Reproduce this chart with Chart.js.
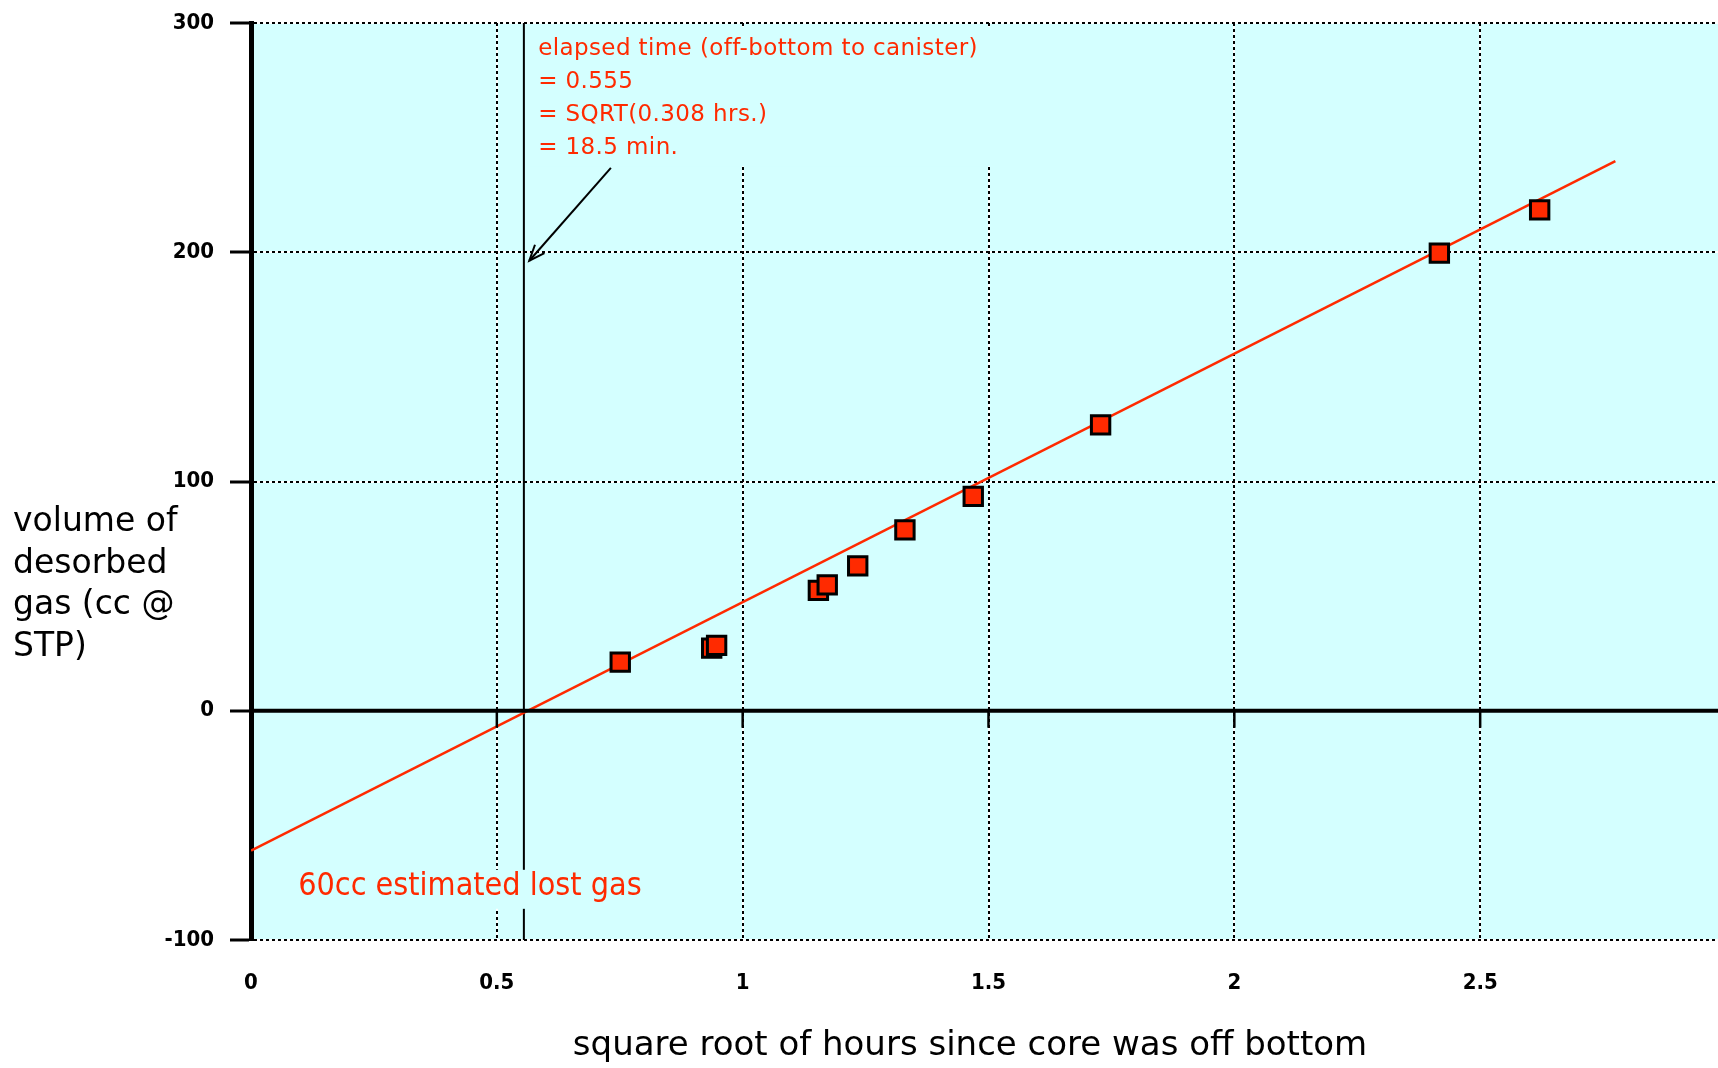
<!DOCTYPE html>
<html>
<head>
<meta charset="utf-8">
<script src="https://cdn.jsdelivr.net/npm/chart.js@4/dist/chart.umd.min.js"></script>
<style>
  html, body { margin: 0; padding: 0; background: #ffffff; overflow: hidden; width: 1718px; height: 1068px; }
  canvas { display: block; }
</style>
</head>
<body>
<canvas id="c" width="1760" height="1068" style="width:1760px;height:1068px"></canvas>
<script>
// ---- data ----
const sampleX = [0.751, 0.937, 0.947, 1.154, 1.172, 1.234, 1.330, 1.469, 1.728, 2.417, 2.621];
const sampleY = [21.2, 27.3, 28.5, 52.5, 54.9, 63.2, 78.9, 93.5, 124.7, 199.6, 218.5];
const fitX = [0, 2.775];
const fitY = [-61, 239.7];
const elapsedX = [0.555, 0.555];
const elapsedY = [-100, 300];
const arrowX = [0.732, 0.566];
const arrowY = [236.8, 196.3];
const xTicks = [0, 0.5, 1, 1.5, 2, 2.5, 3];
const yTicks = [-100, 0, 100, 200, 300];
const noteLines = ["elapsed time (off-bottom to canister)", "= 0.555", "= SQRT(0.308 hrs.)", "= 18.5 min."];
const noteAnchor = [0.584, 288.6];
const lostGasText = "60cc estimated lost gas";
const lostGasAnchor = [0.096, -76.8];
const yTitleLines = ["volume of", "desorbed", "gas (cc @", "STP)"];
const xTitle = "square root of hours since core was off bottom";

const RED = 'rgb(255,42,0)';
const BG = '#d4ffff';
const FONT = '"DejaVu Sans", "Liberation Sans", sans-serif';
const CFONT = '"DejaVu Sans Condensed", "DejaVu Sans", sans-serif';

const toXY = (xs, ys) => xs.map((x, i) => ({x, y: ys[i]}));

const decor = {
  id: 'decor',
  beforeDraw(chart) {
    const {ctx, chartArea: a, scales: {x, y}} = chart;
    ctx.save();
    ctx.fillStyle = BG;
    ctx.fillRect(a.left, a.top, a.right - a.left, a.bottom - a.top);
    // white under-lines for checkered grid look
    ctx.strokeStyle = '#ffffff';
    ctx.lineWidth = 2;
    xTicks.forEach(v => {
      if (v === 0) return;
      const px = Math.round(x.getPixelForValue(v));
      ctx.beginPath(); ctx.moveTo(px, a.top); ctx.lineTo(px, a.bottom); ctx.stroke();
    });
    yTicks.forEach(v => {
      if (v === 0) return;
      const py = Math.round(y.getPixelForValue(v));
      ctx.beginPath(); ctx.moveTo(a.left, py); ctx.lineTo(a.right, py); ctx.stroke();
    });
    ctx.restore();
  },
  afterDatasetsDraw(chart) {
    const {ctx, chartArea: a, scales: {x, y}} = chart;
    ctx.save();
    // zero line + ticks
    const y0 = y.getPixelForValue(0);
    ctx.strokeStyle = '#000';
    ctx.lineWidth = 4;
    ctx.beginPath(); ctx.moveTo(a.left, y0); ctx.lineTo(a.right, y0); ctx.stroke();
    ctx.lineWidth = 2.5;
    xTicks.forEach(v => {
      if (v === 0) return;
      const px = x.getPixelForValue(v);
      ctx.beginPath(); ctx.moveTo(px, y0); ctx.lineTo(px, y0 + 17); ctx.stroke();
    });
    // arrow head
    const x1 = x.getPixelForValue(arrowX[0]), y1 = y.getPixelForValue(arrowY[0]);
    const x2 = x.getPixelForValue(arrowX[1]), y2 = y.getPixelForValue(arrowY[1]);
    const ang = Math.atan2(y2 - y1, x2 - x1);
    const L = 17, sp = 0.38;
    ctx.lineWidth = 2;
    ctx.beginPath();
    ctx.moveTo(x2 - L * Math.cos(ang - sp), y2 - L * Math.sin(ang - sp));
    ctx.lineTo(x2, y2);
    ctx.lineTo(x2 - L * Math.cos(ang + sp), y2 - L * Math.sin(ang + sp));
    ctx.stroke();

    // annotation block
    ctx.font = '23px ' + FONT;
    try { ctx.letterSpacing = '0.4px'; } catch (e) {}
    ctx.textBaseline = 'middle';
    ctx.textAlign = 'left';
    const nx = x.getPixelForValue(noteAnchor[0]);
    const ny = y.getPixelForValue(noteAnchor[1]);
    const lh = 33;
    let w = 0;
    noteLines.forEach(t => { w = Math.max(w, ctx.measureText(t).width); });
    ctx.fillStyle = BG;
    ctx.fillRect(nx - 8, ny - 22, w + 22, lh * (noteLines.length - 1) + 40);
    ctx.fillStyle = RED;
    noteLines.forEach((t, i) => ctx.fillText(t, nx, ny + i * lh));
    try { ctx.letterSpacing = '0px'; } catch (e) {}

    // lost gas text
    ctx.font = '32px ' + CFONT;
    const lx = x.getPixelForValue(lostGasAnchor[0]);
    const ly = y.getPixelForValue(lostGasAnchor[1]);
    const lw = ctx.measureText(lostGasText).width;
    ctx.fillStyle = BG;
    ctx.fillRect(lx - 4, ly - 17, lw + 8, 39);
    ctx.fillStyle = RED;
    ctx.fillText(lostGasText, lx, ly);

    // y title (horizontal, multi-line)
    ctx.fillStyle = '#000';
    ctx.font = '33px ' + FONT;
    const ty = y.getPixelForValue(100);
    yTitleLines.forEach((t, i) => ctx.fillText(t, 13, ty + 41 + i * 41.7));

    // x title
    ctx.font = '34px ' + FONT;
    ctx.textAlign = 'center';
    ctx.fillText(xTitle, 970, a.bottom + 106);
    ctx.restore();
  }
};

new Chart(document.getElementById('c'), {
  type: 'scatter',
  data: {
    datasets: [
      {
        label: 'elapsed',
        data: toXY(elapsedX, elapsedY),
        showLine: true,
        borderColor: '#000',
        borderWidth: 2,
        pointRadius: 0,
        order: 4
      },
      {
        label: 'arrow',
        data: toXY(arrowX, arrowY),
        showLine: true,
        borderColor: '#000',
        borderWidth: 2,
        pointRadius: 0,
        order: 3
      },
      {
        label: 'fit',
        data: toXY(fitX, fitY),
        showLine: true,
        borderColor: RED,
        borderWidth: 2.5,
        pointRadius: 0,
        order: 2
      },
      {
        label: 'samples',
        data: toXY(sampleX, sampleY),
        pointStyle: 'rect',
        pointRadius: 13,
        pointHoverRadius: 13,
        backgroundColor: RED,
        borderColor: '#000',
        borderWidth: 3,
        order: 1
      }
    ]
  },
  options: {
    responsive: false,
    animation: false,
    events: [],
    layout: { padding: { left: 0, top: 23, right: 34, bottom: 0 } },
    plugins: { legend: { display: false }, tooltip: { enabled: false } },
    scales: {
      x: {
        type: 'linear',
        min: 0, max: 3,
        afterBuildTicks(s) { s.ticks = xTicks.map(v => ({value: v})); },
        afterFit(s) { s.height = 128; s.paddingLeft = 0; s.paddingRight = 0; },
        grid: {
          color: ctx => (ctx.tick && ctx.tick.value === 0) ? 'rgba(0,0,0,0)' : '#000',
          lineWidth: 2,
          drawTicks: false
        },
        border: { display: false, dash: [3, 3] },
        ticks: {
          padding: 30,
          color: '#000',
          font: { family: CFONT, size: 22, weight: 'bold' },
          callback: v => String(v)
        },
        title: { display: false, text: xTitle }
      },
      y: {
        type: 'linear',
        min: -100, max: 300,
        afterBuildTicks(s) { s.ticks = yTicks.map(v => ({value: v})); },
        afterFit(s) { s.width = 251; s.paddingTop = 0; s.paddingBottom = 0; },
        grid: {
          color: ctx => (ctx.tick && ctx.tick.value === 0) ? 'rgba(0,0,0,0)' : '#000',
          lineWidth: 2,
          drawTicks: true,
          tickLength: 21,
          tickColor: '#000',
          tickWidth: 3,
          tickBorderDash: []
        },
        border: { display: true, color: '#000', width: 5, dash: [3, 3] },
        ticks: {
          padding: 16,
          color: '#000',
          font: { family: CFONT, size: 22, weight: 'bold' },
          callback: v => String(v)
        }
      }
    }
  },
  plugins: [decor]
});
</script>
</body>
</html>
